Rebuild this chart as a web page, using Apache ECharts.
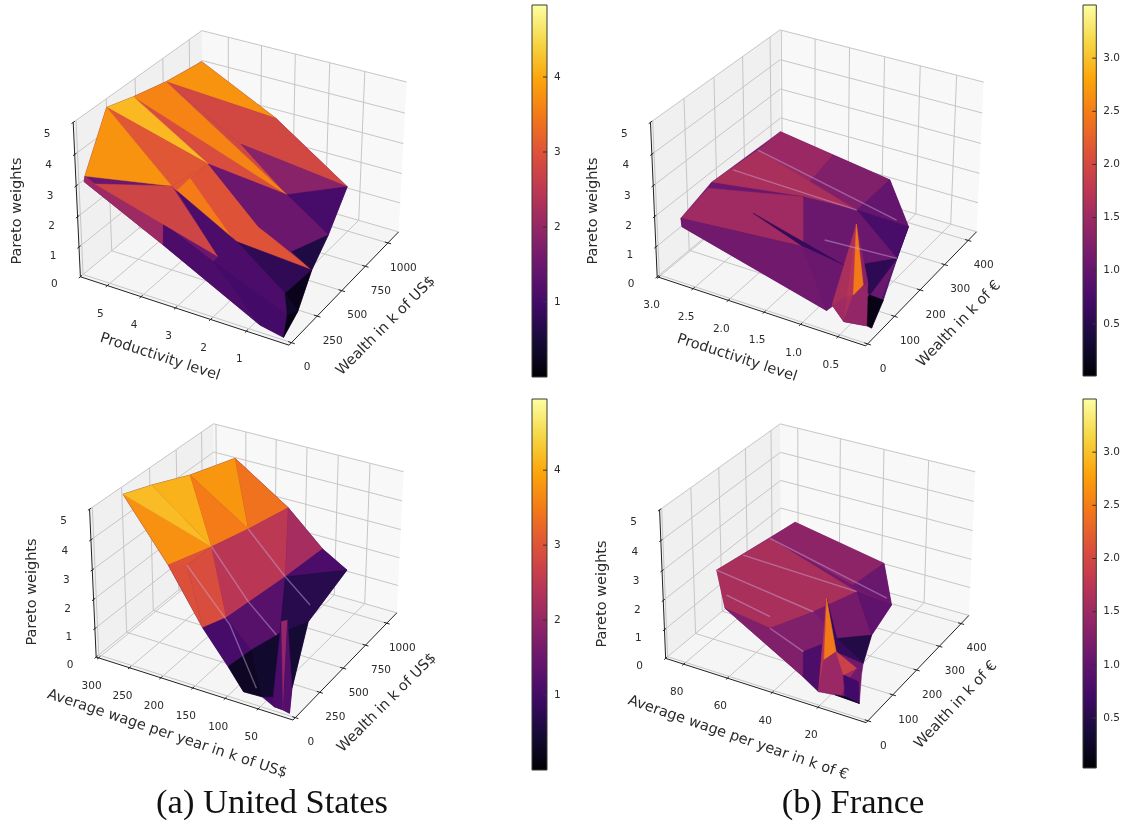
<!DOCTYPE html>
<html><head><meta charset="utf-8">
<script src="https://cdn.jsdelivr.net/npm/echarts@6/dist/echarts.min.js"></script>
<style>html,body{margin:0;background:#fff}#main{width:1123px;height:822px;filter:blur(0.7px)}</style></head>
<body><div id="main"></div>
<script>
const infernoStops=['#000004','#160b39','#420a68','#6a176e','#932667','#bc3754','#dd513a','#f37819','#fca50a','#f6d746','#fcffa4'];
const wealthTicksUS=[0,250,500,750,1000], wealthTicksFR=[0,100,200,300,400];
const prodTicksUS=[5,4,3,2,1], prodTicksFR=[3.0,2.5,2.0,1.5,1.0,0.5];
const wageTicksUS=[300,250,200,150,100,50], wageTicksFR=[80,60,40,20];
const zTicks=[0,1,2,3,4,5];
const barTicksUS=[1,2,3,4], barTicksFR=[0.5,1,1.5,2,2.5,3];

// United States, productivity view
const usProdWealth=[1169,883,579,446,51,60,29,1040,1003,932,442,152,707,647,402,402,255,29,348,208,170,-24,-56,224,118,400,100,71,331,126];
const usProdLevel=[5.97,6.16,6.15,6.51,5.81,5.55,5.76,3.31,1.07,4.04,3.50,3.63,2.01,0.64,0.99,0.42,2.11,1.94,4.13,0.61,0.15,-0.02,0.53,4.13,2.35,1.93,0.24,1.65,3.68,3.82];
const usProdWeight=[3.8,3.8,4.1,4.0,3.1,2.9,3.0,3.0,1.5,2.2,3.1,3.2,1.8,1.1,1.2,0.8,1.6,1.9,2.3,0.6,0.3,0.2,0.5,1.6,1.3,1.7,0.4,2.4,2.9,1.3];
const usProdFacets=[[0,7,8,13,15,20,21,22,29,6,4,3,2,1],[0,1,7],[1,9,12],[1,7,8,9],[9,8,12],[8,12,13],[2,10,12],[1,2,12],[2,3,10],[3,10,11],[11,10,18],[3,4,11],[6,4,5,23,29],[29,23,24,22],[5,11,17],[10,25,15,16,18],[18,28,27],[10,12,13,14,25],[14,13,15],[16,15,19],[18,16,19,26,24,17],[15,19,20],[19,20,26],[24,26,21,22],[26,20,21]];
const usProdFacetValues=[1.5,3.77,2.8,2.8,1.85,1.05,2.9,3.6,4.17,3.05,3.05,3.77,2.1,1.1,2.75,3.0,3.5,1.5,0.6,0.8,1.1,0.2,0.35,1.0,0.15];
const usProdRidges=[];

// France, productivity view
const frProdWealth=[428,414,301,159,39,15,-13,38,257,140,138,131,210,112,110,45,100,-10,-11,9,47,78,23,28,419,230,321,295,147,311,230,171];
const frProdLevel=[2.99,1.31,0.65,2.92,2.85,2.73,0.63,0.22,1.22,2.24,0.92,1.50,0.49,0.51,0.32,0.55,0.66,0.57,0.41,0.45,0.37,0.42,0.23,0.43,2.16,1.88,2.90,2.03,2.92,0.85,2.90,1.35];
const frProdWeight=[1.6,1.15,0.9,1.9,1.7,1.7,0.8,0.1,1.4,1.5,0.7,1.0,0.7,0.3,0.3,0.2,2.6,1.0,0.6,1.2,1.3,1.1,0.3,1.1,1.4,1.6,1.8,1.5,1.8,0.9,1.8,1.0];
const frProdFacets=[[0,1,2,7,22,18,17,6,5,4,3],[0,24,27,26],[24,1,8,27],[1,2,8],[8,2,12],[3,26,27,8,25],[3,25,28],[28,25,11,4],[4,5,6,11],[25,8,12,10],[9,10,11],[10,12,13],[12,2,7,14],[13,14,7,15],[11,10,19,6],[17,18,19],[19,18,23],[23,18,22,21],[16,17,19],[16,19,23,20],[16,20,21],[16,23,20]];
const frProdFacetValues=[1.05,1.45,1.25,1.0,0.75,1.6,1.05,1.5,1.1,1.05,0.6,0.55,0.65,0.12,1.05,1.5,1.6,1.4,1.6,1.7,1.3,2.45];
const frProdRidges=[[26,29],[30,8],[31,12]];

// United States, wage view
const usWageWealth=[1203,297,764,483,104,368,647,1041,110,250,777,1085,1080,49,236,466,637,27,33,39,-12,-15,-25,146,279,307,174,222,62,560,444,738];
const usWageLevel=[281,311,284,298,207,184,171,167,156,142,131,116,75,107,101,92,73,80,53,37,28,14,3,25,62,57,190,132,66,157,94,85];
const usWageWeight=[3.7,4.6,4.2,4.5,3.4,3.4,3.3,3.0,1.6,1.6,1.5,1.7,1.2,0.8,0.8,0.7,0.7,0.2,0.2,0.3,0.2,0.2,0.2,0.3,1.9,1.9,3.3,1.5,0.3,1.1,0.7,0.9];
const usWageFacets=[[0,7,11,12,16,23,22,21,20,18,17,13,8,4,1,3,2],[1,4,5],[1,3,5],[3,2,5],[2,0,6],[2,6,5],[0,7,6],[4,5,26],[4,26,8],[26,5,9,8],[5,6,10,9],[6,7,10],[7,11,10],[8,9,14,13],[9,10,15,14],[10,11,12],[10,12,16,15],[13,14,18,17],[14,15,19,18],[15,16,23,19],[24,19,20,21],[25,24,21],[25,21,22,23]];
const usWageFacetValues=[1.0,3.75,4.2,4.1,3.8,3.5,3.4,3.0,2.95,2.9,2.45,2.5,2.2,1.05,1.25,1.1,0.7,0.3,0.4,0.45,1.1,2.0,1.2];
const usWageRidges=[[26,27,28],[5,29,30],[6,10,31]];

// France, wage view
const frWageWealth=[429,376,296,135,83,17,-4,34,95,108,52,89,102,52,25,78,32,81,28,124,204,150,321,278,148,223,58,81,298,315,109,109];
const frWageLevel=[80.5,32.7,20.8,82.1,71.9,29.2,20.2,6.9,12.6,29.4,24.1,23.0,15.5,14.3,13.5,18.6,12.8,12.4,16.6,15.0,19.9,29.5,79.9,34.6,39.7,80.7,33.8,51.3,38.3,24.9,74.4,54.6];
const frWageWeight=[1.7,1.6,1.0,2.1,1.4,0.6,0.5,0.1,0.4,2.5,1.0,1.0,0.5,0.5,0.3,0.4,0.2,0.3,0.2,0.5,0.7,0.8,1.9,1.3,1.5,2.0,1.0,1.2,1.3,1.0,1.6,1.3];
const frWageFacets=[[0,1,2,20,19,8,7,18,6,5,4,3],[22,0,1,28],[1,2,28],[3,22,23,24],[3,4,27,24],[4,5,26,27],[24,23,20,21],[23,2,20],[27,24,21,26],[26,21,9,6,5],[21,19,20],[9,21,19,11],[9,6,10],[9,10,11],[6,10,11,12,13,14],[11,12,15],[15,16,7,17],[18,16,7]];
const frWageFacetValues=[1.1,1.35,1.05,1.6,1.6,1.25,1.15,0.95,1.25,0.8,0.45,0.6,1.7,2.45,1.45,1.9,0.7,0.12];
const frWageRidges=[[22,29],[25,23],[3,24],[30,31],[27,26]];

const panels=[
{off:[0,0],corners:{B0:[868,1035],C0:[1195,697],A0:[240,830],D0:[610,525],A5:[220,368],D5:[605,92],C5:[1220,245]},
 wRange:[-23,1122],xRange:[-0.17,5.81],wT:wealthTicksUS,xT:prodTicksUS,xFmt:v=>String(v),
 xName:'Productivity level',wName:'Wealth in k of US$',xPos:[160,357,-18],wPos:[386,326,45],zPos:[17,211],
 W:usProdWealth,X:usProdLevel,Z:usProdWeight,F:usProdFacets,C:usProdFacetValues,R:usProdRidges,cmax:4.96},
{off:[570,0],corners:{B0:[888,1037],C0:[1220,697],A0:[262,830],D0:[632,522],A5:[240,368],D5:[632,90],C5:[1240,245]},
 wRange:[-7,437],xRange:[0.134,3.02],wT:wealthTicksFR,xT:prodTicksFR,xFmt:v=>v.toFixed(1),
 xName:'Productivity level',wName:'Wealth in k of €',xPos:[737,358,-18],wPos:[959,324,46],zPos:[593,211],
 W:frProdWealth,X:frProdLevel,Z:frProdWeight,F:frProdFacets,C:frProdFacetValues,R:frProdRidges,cmax:3.5},
{off:[0,395],corners:{B0:[878,977],C0:[1192,650],A0:[290,785],D0:[642,500],A5:[268,342],D5:[642,85],C5:[1210,232]},
 wRange:[-23,1122],xRange:[-2,304],wT:wealthTicksUS,xT:wageTicksUS,xFmt:v=>String(v),
 xName:'Average wage per year in k of US$',wName:'Wealth in k of US$',xPos:[167,734,-18.5],wPos:[387,703,45],zPos:[32,592],
 W:usWageWealth,X:usWageLevel,Z:usWageWeight,F:usWageFacets,C:usWageFacetValues,R:usWageRidges,cmax:4.96},
{off:[570,395],corners:{B0:[888,985],C0:[1198,658],A0:[288,788],D0:[632,505],A5:[268,345],D5:[632,85],C5:[1215,232]},
 wRange:[-7,437],xRange:[-0.4,88.4],wT:wealthTicksFR,xT:wageTicksFR,xFmt:v=>String(v),
 xName:'Average wage per year in k of €',wName:'Wealth in k of €',xPos:[738,738,-19],wPos:[956,705,47],zPos:[602,594],
 W:frWageWealth,X:frWageLevel,Z:frWageWeight,F:frWageFacets,C:frWageFacetValues,R:frWageRidges,cmax:3.5}
];
const colorbars=[
 {left:532,top:5,h:372,min:0,max:4.96,ticks:barTicksUS},
 {left:1083,top:5,h:371,min:0.01,max:3.5,ticks:barTicksFR},
 {left:532,top:399,h:371,min:0,max:4.95,ticks:barTicksUS},
 {left:1083,top:399,h:369,min:0.03,max:3.5,ticks:barTicksFR}
];
function hex(c){return [1,3,5].map(i=>parseInt(c.substr(i,2),16));}
function cmap(n){n=Math.max(0,Math.min(1,n))*10;const i=Math.min(9,Math.floor(n)),f=n-i,a=hex(infernoStops[i]),b=hex(infernoStops[i+1]);
 return 'rgb('+a.map((x,k)=>Math.round(x+(b[k]-x)*f)).join(',')+')';}
function solve(A,b){const n=b.length;for(let i=0;i<n;i++){let m=i;for(let r=i+1;r<n;r++)if(Math.abs(A[r][i])>Math.abs(A[m][i]))m=r;
 [A[i],A[m]]=[A[m],A[i]];[b[i],b[m]]=[b[m],b[i]];for(let r=i+1;r<n;r++){const f=A[r][i]/A[i][i];for(let c=i;c<n;c++)A[r][c]-=f*A[i][c];b[r]-=f*b[i];}}
 const x=new Array(n);for(let i=n-1;i>=0;i--){let s=b[i];for(let c=i+1;c<n;c++)s-=A[i][c]*x[c];x[i]=s/A[i][i];}return x;}
function camera(p){const u={B0:[0,0,0],C0:[1,0,0],A0:[0,1,0],D0:[1,1,0],A5:[0,1,1],D5:[1,1,1],C5:[1,0,1]};
 const rows=[],rhs=[];for(const k in u){const [X,Y,Z]=u[k];const x=p.off[0]+p.corners[k][0]/3,y=p.off[1]+p.corners[k][1]/3;
 rows.push([X,Y,Z,1,0,0,0,0,-x*X,-x*Y,-x*Z]);rhs.push(x);rows.push([0,0,0,0,X,Y,Z,1,-y*X,-y*Y,-y*Z]);rhs.push(y);}
 const N=Array.from({length:11},()=>new Array(11).fill(0)),d=new Array(11).fill(0);
 rows.forEach((r,i)=>{for(let a=0;a<11;a++){d[a]+=r[a]*rhs[i];for(let b=0;b<11;b++)N[a][b]+=r[a]*r[b];}});
 return solve(N,d);}
panels.forEach(p=>{p.h=camera(p);
 p.toUnit=(w,x,z)=>[(w-p.wRange[0])/(p.wRange[1]-p.wRange[0]),(x-p.xRange[0])/(p.xRange[1]-p.xRange[0]),z/5];
 p.projU=(a,b,c)=>{const h=p.h,s=h[8]*a+h[9]*b+h[10]*c+1;return [(h[0]*a+h[1]*b+h[2]*c+h[3])/s,(h[4]*a+h[5]*b+h[6]*c+h[7])/s];};
 p.proj=(w,x,z)=>{const u=p.toUnit(w,x,z);return p.projU(u[0],u[1],u[2]);};
 p.vert=k=>p.proj(p.W[k],p.X[k],p.Z[k]);
});
const TXT='#2b2b2b',FF='"DejaVu Sans"';
function frameItems(p){const it=[];const P=p.projU;
 const poly=(pts,fill)=>it.push({t:'poly',pts,fill});
 const line=(a,b,col,w)=>it.push({t:'line',a,b,col,w});
 const GR='#c6c6c6',AX='#222';
 poly([P(0,0,0),P(1,0,0),P(1,1,0),P(0,1,0)],'#f5f5f5');
 poly([P(0,1,0),P(1,1,0),P(1,1,1),P(0,1,1)],'#f0f0f0');
 poly([P(1,0,0),P(1,1,0),P(1,1,1),P(1,0,1)],'#f8f8f8');
 const wu=v=>p.toUnit(v,0,0)[0],xu=v=>p.toUnit(0,v,0)[1];
 p.wT.forEach(v=>{const u=wu(v);line(P(u,0,0),P(u,1,0),GR,1);line(P(u,1,0),P(u,1,1),GR,1);});
 p.xT.forEach(v=>{const u=xu(v);line(P(0,u,0),P(1,u,0),GR,1);line(P(1,u,0),P(1,u,1),GR,1);});
 zTicks.forEach(z=>{const t=z/5;line(P(0,1,t),P(1,1,t),GR,1);line(P(1,1,t),P(1,0,t),GR,1);});
 line(P(0,0,0),P(1,0,0),AX,1);line(P(0,0,0),P(0,1,0),AX,1);line(P(0,1,0),P(0,1,1),AX,1);
 p.wT.forEach(v=>{const u=wu(v);line(P(u,-0.015,0),P(u,0.015,0),AX,1);const s=P(u,0,0);it.push({t:'text',x:s[0]+15.5,y:s[1]+25,s:String(v),f:10.5});});
 p.xT.forEach(v=>{const u=xu(v);line(P(-0.012,u,0),P(0.012,u,0),AX,1);const s=P(0,u,0);it.push({t:'text',x:s[0]-7,y:s[1]+28.5,s:p.xFmt(v),f:10.5});});
 zTicks.forEach(z=>{const t=z/5;line(P(-0.012,1,t),P(0.012,1,t),AX,1);const s=P(0,1,t);it.push({t:'text',x:s[0]-26,y:s[1]+8+4*t,s:String(z),f:10.5});});
 it.push({t:'text',x:p.xPos[0],y:p.xPos[1],s:p.xName,f:14.5,r:p.xPos[2]});
 it.push({t:'text',x:p.wPos[0],y:p.wPos[1],s:p.wName,f:14.5,r:p.wPos[2]});
 it.push({t:'text',x:p.zPos[0],y:p.zPos[1],s:'Pareto weights',f:14.5,r:90});
 return it;}
function frameSeries(p){const items=frameItems(p);
 return {type:'custom',coordinateSystem:'cartesian2d',xAxisIndex:0,yAxisIndex:0,silent:true,clip:false,data:items.map((_,i)=>[i]),
 renderItem:(pa,api)=>{const o=items[pa.dataIndex];
  if(o.t==='poly')return {type:'polygon',shape:{points:o.pts.map(q=>api.coord(q))},style:{fill:o.fill}};
  if(o.t==='line'){const a=api.coord(o.a),b=api.coord(o.b);return {type:'line',shape:{x1:a[0],y1:a[1],x2:b[0],y2:b[1]},style:{stroke:o.col,lineWidth:o.w}};}
  const c=api.coord([o.x,o.y]);return {type:'text',x:c[0],y:c[1],rotation:(o.r||0)*Math.PI/180,style:{text:o.s,textAlign:'center',textVerticalAlign:'middle',fill:TXT,font:o.f+'px '+FF}};
 }};}
function surfSeries(p){const tot=p.F.length;
 return {type:'custom',coordinateSystem:'cartesian2d',xAxisIndex:0,yAxisIndex:0,silent:true,clip:false,data:p.F.map((_,i)=>[i]).concat(p.R.map((_,i)=>[tot+i])),
 renderItem:(pa,api)=>{const i=pa.dataIndex;
  if(i<tot){const c=cmap(p.C[i]/p.cmax);return {type:'polygon',shape:{points:p.F[i].map(k=>api.coord(p.vert(k)))},style:{fill:c,stroke:c,lineWidth:.5}};}
  return {type:'polyline',shape:{points:p.R[i-tot].map(k=>api.coord(p.vert(k)))},style:{fill:'none',stroke:'rgba(205,175,225,0.45)',lineWidth:1.4}};
 }};}
const grids=[{left:0,top:0,width:1123,height:822,show:false}],xA=[{type:'value',gridIndex:0,min:0,max:1123,show:false}],yA=[{type:'value',gridIndex:0,min:0,max:822,inverse:true,show:false}];
const series=[];
panels.forEach(p=>{series.push(frameSeries(p));series.push(surfSeries(p));});
colorbars.forEach((b,i)=>{const g=i+1;
 grids.push({left:b.left,top:b.top,width:15,height:b.h,show:false});
 xA.push({type:'value',gridIndex:g,min:0,max:1,show:false});
 yA.push({type:'value',gridIndex:g,min:b.min,max:b.max,position:'right',splitLine:{show:false},
  axisLine:{show:false},axisTick:{show:false},
  axisLabel:{show:true,margin:7,color:TXT,fontFamily:FF,fontSize:10.5,customValues:b.ticks,formatter:v=>b.ticks===barTicksFR?Number(v).toFixed(1):String(v)}});
 series.push({type:'custom',coordinateSystem:'cartesian2d',xAxisIndex:g,yAxisIndex:g,silent:true,clip:false,data:[[0,b.min,1,b.max]],
  renderItem:(pa,api)=>{const a=api.coord([api.value(0),api.value(3)]),c=api.coord([api.value(2),api.value(1)]);
   const st=infernoStops.map((col,k)=>({offset:1-k/10,color:col})).reverse();
   const kids=[{type:'rect',shape:{x:a[0],y:a[1],width:c[0]-a[0],height:c[1]-a[1]},style:{fill:new echarts.graphic.LinearGradient(0,0,0,1,st),stroke:'#3a3a30',lineWidth:1}}];
   b.ticks.forEach(t=>{const q=api.coord([1,t]);kids.push({type:'line',shape:{x1:q[0]-4,y1:q[1],x2:q[0],y2:q[1]},style:{stroke:'#333',lineWidth:1}});});
   return {type:'group',children:kids};}});
});
const chart=echarts.init(document.getElementById('main'),null,{renderer:'canvas'});
chart.setOption({animation:false,backgroundColor:'#fff',
 title:[{text:'(a) United States',left:267,top:781,textAlign:'center',textStyle:{fontFamily:'"Liberation Serif"',fontWeight:'normal',fontSize:34.5,color:'#111'}},
        {text:'(b) France',left:848,top:781,textAlign:'center',textStyle:{fontFamily:'"Liberation Serif"',fontWeight:'normal',fontSize:34.5,color:'#111'}}],
 grid:grids,xAxis:xA,yAxis:yA,series});
</script></body></html>
